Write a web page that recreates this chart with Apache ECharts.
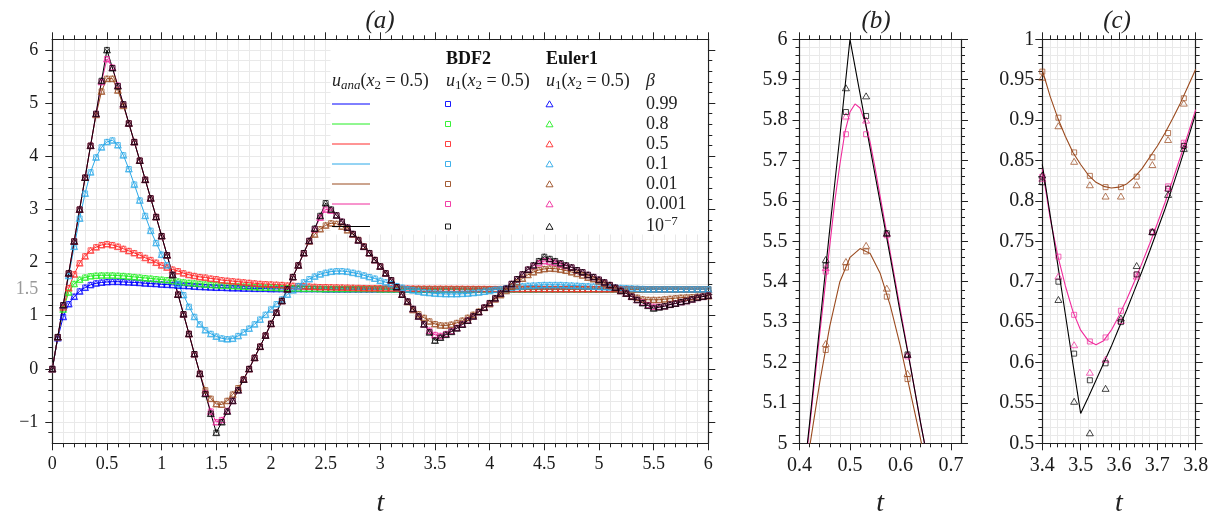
<!DOCTYPE html>
<html><head><meta charset="utf-8">
<script src="https://cdn.jsdelivr.net/npm/echarts@6.0.0/dist/echarts.min.js"></script>
<style>html,body{margin:0;padding:0;background:#fff}#c{width:1214px;height:515px}</style>
</head><body><div id="c"></div>
<script>
// ---------- data (panel a, t = 0 .. 6 step 0.05) ----------
const T_A = Array.from({length:121}, (_, i) => Math.round(i * 5) / 100);
const BLUE = [
0,0.58,0.98,1.22,1.36,1.46,1.53,1.58,1.61,1.625,
1.635,1.64,1.64,1.635,1.63,1.625,1.62,1.61,1.605,1.6,
1.59,1.585,1.58,1.57,1.565,1.56,1.55,1.545,1.54,1.535,
1.53,1.53,1.525,1.52,1.52,1.515,1.515,1.51,1.51,1.51,
1.505,1.505,1.505,1.505,1.505,1.505,1.505,1.505,1.505,1.505,
1.5,1.5,1.5,1.5,1.5,1.5,1.5,1.5,1.5,1.5,
1.5,1.5,1.5,1.5,1.5,1.5,1.5,1.5,1.5,1.5,
1.5,1.5,1.5,1.5,1.5,1.5,1.5,1.5,1.5,1.5,
1.5,1.5,1.5,1.5,1.5,1.5,1.5,1.5,1.5,1.5,
1.5,1.5,1.5,1.5,1.5,1.5,1.5,1.5,1.5,1.5,
1.5,1.5,1.5,1.5,1.5,1.5,1.5,1.5,1.5,1.5,
1.5,1.5,1.5,1.5,1.5,1.5,1.5,1.5,1.5,1.5,
1.5];
const GREEN = [
0,0.6,1.12,1.44,1.6,1.68,1.72,1.745,1.755,1.76,
1.76,1.76,1.755,1.75,1.74,1.73,1.72,1.71,1.70,1.69,
1.68,1.67,1.655,1.645,1.63,1.62,1.61,1.60,1.59,1.58,
1.575,1.57,1.565,1.56,1.555,1.55,1.545,1.54,1.535,1.53,
1.53,1.525,1.52,1.52,1.515,1.515,1.51,1.51,1.51,1.505,
1.505,1.505,1.505,1.505,1.505,1.505,1.505,1.505,1.505,1.505,
1.5,1.5,1.5,1.5,1.5,1.5,1.5,1.5,1.5,1.5,
1.5,1.5,1.5,1.5,1.5,1.5,1.5,1.5,1.5,1.5,
1.5,1.5,1.5,1.5,1.5,1.5,1.5,1.5,1.5,1.5,
1.5,1.5,1.5,1.5,1.5,1.5,1.5,1.5,1.5,1.5,
1.5,1.5,1.5,1.5,1.5,1.5,1.5,1.5,1.5,1.5,
1.5,1.5,1.5,1.5,1.5,1.5,1.5,1.5,1.5,1.5,
1.5];
const RED = [
0,0.6,1.16,1.52,1.78,1.99,2.12,2.23,2.29,2.33,
2.35,2.33,2.30,2.26,2.22,2.18,2.14,2.09,2.05,2.0,
1.95,1.91,1.87,1.84,1.8,1.77,1.75,1.73,1.72,1.70,
1.69,1.67,1.66,1.65,1.64,1.63,1.62,1.61,1.60,1.595,
1.59,1.585,1.58,1.57,1.565,1.56,1.555,1.55,1.545,1.54,
1.54,1.537,1.535,1.532,1.53,1.527,1.525,1.522,1.52,1.52,
1.52,1.518,1.517,1.516,1.515,1.514,1.513,1.512,1.511,1.51,
1.51,1.51,1.509,1.509,1.508,1.508,1.507,1.507,1.506,1.506,
1.505,1.505,1.505,1.505,1.505,1.505,1.505,1.505,1.505,1.505,
1.503,1.503,1.503,1.503,1.503,1.503,1.503,1.503,1.503,1.503,
1.502,1.502,1.502,1.502,1.502,1.502,1.502,1.502,1.502,1.502,
1.5,1.5,1.5,1.5,1.5,1.5,1.5,1.5,1.5,1.5,
1.5];
const CYAN = [
0,0.6,1.19,1.75,2.3,2.83,3.3,3.7,3.98,4.17,
4.27,4.30,4.21,4.02,3.76,3.47,3.17,2.88,2.6,2.37,
2.15,1.95,1.77,1.6,1.39,1.17,0.98,0.84,0.73,0.66,
0.61,0.575,0.56,0.57,0.62,0.69,0.76,0.84,0.93,1.02,
1.12,1.22,1.31,1.40,1.48,1.56,1.63,1.69,1.74,1.78,
1.81,1.83,1.84,1.84,1.83,1.81,1.79,1.76,1.73,1.70,
1.66,1.63,1.60,1.56,1.53,1.50,1.48,1.46,1.44,1.43,
1.42,1.415,1.41,1.41,1.41,1.415,1.42,1.43,1.44,1.455,
1.47,1.49,1.5,1.52,1.53,1.545,1.555,1.565,1.57,1.575,
1.58,1.58,1.58,1.58,1.575,1.57,1.565,1.56,1.555,1.55,
1.545,1.54,1.535,1.53,1.525,1.52,1.515,1.51,1.505,1.5,
1.5,1.5,1.5,1.5,1.5,1.5,1.5,1.5,1.5,1.5,
1.5];
const BROWN = [
0,0.6,1.2,1.8,2.4,3.0,3.6,4.2,4.78,5.22,
5.46,5.46,5.24,4.95,4.62,4.27,3.92,3.56,3.21,2.86,
2.5,2.14,1.77,1.4,1.03,0.66,0.28,-0.09,-0.40,-0.56,
-0.66,-0.67,-0.6,-0.48,-0.36,-0.19,0.0,0.21,0.42,0.63,
0.85,1.06,1.28,1.5,1.73,1.95,2.18,2.40,2.53,2.63,
2.70,2.74,2.73,2.68,2.61,2.53,2.43,2.31,2.18,2.05,
1.93,1.8,1.67,1.54,1.4,1.26,1.11,1.03,0.962,0.895,
0.845,0.82,0.817,0.834,0.866,0.91,0.963,1.02,1.08,1.15,
1.22,1.31,1.39,1.47,1.55,1.63,1.7,1.77,1.82,1.86,
1.88,1.89,1.885,1.87,1.85,1.82,1.79,1.76,1.72,1.69,
1.65,1.61,1.57,1.52,1.47,1.42,1.37,1.34,1.31,1.3,
1.3,1.3,1.31,1.32,1.33,1.34,1.345,1.35,1.36,1.365,
1.37];
const PINK = [
0,0.6,1.2,1.8,2.4,3.0,3.6,4.2,4.8,5.40,
5.83,5.67,5.33,4.98,4.62,4.27,3.92,3.56,3.21,2.86,
2.5,2.14,1.77,1.4,1.03,0.66,0.28,-0.09,-0.46,-0.8,
-1.0,-0.96,-0.79,-0.6,-0.4,-0.2,0.0,0.21,0.42,0.63,
0.85,1.06,1.28,1.5,1.73,1.95,2.18,2.41,2.63,2.85,
3.0,2.98,2.89,2.77,2.66,2.54,2.42,2.3,2.18,2.05,
1.93,1.8,1.67,1.54,1.4,1.27,1.13,0.99,0.84,0.72,
0.64,0.622,0.658,0.711,0.772,0.84,0.913,0.99,1.07,1.155,
1.24,1.33,1.42,1.51,1.6,1.69,1.78,1.87,1.94,1.99,
2.03,2.02,2.0,1.97,1.94,1.91,1.86,1.82,1.77,1.73,
1.68,1.63,1.58,1.53,1.47,1.42,1.36,1.3,1.25,1.2,
1.17,1.17,1.18,1.21,1.23,1.26,1.28,1.31,1.34,1.36,
1.38];
const BLACK = [
0,0.6,1.2,1.8,2.4,3.0,3.6,4.2,4.8,5.42,
6.0,5.66,5.32,4.98,4.62,4.27,3.92,3.56,3.21,2.86,
2.5,2.14,1.77,1.4,1.03,0.66,0.28,-0.09,-0.47,-0.84,
-1.2,-1.0,-0.8,-0.6,-0.4,-0.2,0.0,0.21,0.42,0.63,
0.85,1.06,1.28,1.5,1.73,1.95,2.18,2.41,2.64,2.88,
3.12,3.0,2.89,2.77,2.66,2.54,2.42,2.3,2.18,2.05,
1.93,1.8,1.67,1.54,1.4,1.27,1.13,0.99,0.84,0.69,
0.535,0.59,0.645,0.70,0.765,0.835,0.91,0.99,1.07,1.155,
1.24,1.33,1.42,1.51,1.6,1.69,1.78,1.87,1.95,2.03,
2.11,2.07,2.03,1.99,1.95,1.91,1.86,1.82,1.77,1.73,
1.68,1.63,1.58,1.53,1.47,1.42,1.36,1.3,1.24,1.19,
1.14,1.16,1.18,1.21,1.23,1.26,1.28,1.31,1.34,1.36,
1.38];

// ---------- panel b (zoom near t = 0.5) ----------
const TB = [0.40,0.42,0.44,0.46,0.48,0.50,0.52,0.54,0.56,0.58,0.60,0.62,0.64,0.66,0.68,0.70,0.72];
const B_BLACK = [4.82,5.05,5.29,5.53,5.76,6.0,5.865,5.73,5.595,5.46,5.32,5.19,5.05,4.92,4.78,4.65,4.51];
const B_BROWN = [4.8,4.99,5.15,5.29,5.40,5.46,5.482,5.47,5.42,5.34,5.24,5.125,5.01,4.89,4.76,4.62,4.48];
const TB_PINK = [0.40,0.42,0.44,0.46,0.47,0.48,0.49,0.50,0.51,0.52,0.53,0.54,0.55,0.56,0.58,0.60,0.62,0.64,0.66,0.68,0.70,0.72];
const B_PINK = [4.81,5.04,5.27,5.49,5.6,5.69,5.77,5.82,5.84,5.83,5.795,5.745,5.68,5.61,5.47,5.33,5.19,5.05,4.92,4.78,4.65,4.51];
const TB_M = [0.452,0.492,0.532,0.573,0.614];
const BM_BROWN_BDF = [5.231,5.435,5.475,5.363,5.159];
const BM_BROWN_EUL = [5.247,5.45,5.49,5.384,5.173];
const BM_PINK_BDF = [5.425,5.765,5.765,5.515,5.215];
const BM_PINK_EUL = [5.435,5.81,5.80,5.52,5.22];
const BM_BLACK_BDF = [5.44,5.82,5.81,5.52,5.22];
const BM_BLACK_EUL = [5.455,5.88,5.86,5.52,5.22];

// ---------- panel c (zoom near t = 3.5) ----------
const TC = [3.40,3.42,3.44,3.46,3.48,3.50,3.52,3.54,3.56,3.58,3.60,3.62,3.64,3.66,3.68,3.70,3.72,3.74,3.76,3.78,3.80];
const C_BLACK = [0.845,0.784,0.722,0.66,0.598,0.537,0.557,0.578,0.599,0.62,0.643,0.665,0.689,0.713,0.738,0.764,0.79,0.818,0.847,0.877,0.908];
const C_PINK = [0.84,0.78,0.733,0.695,0.663,0.64,0.627,0.622,0.627,0.64,0.658,0.678,0.70,0.723,0.747,0.772,0.798,0.826,0.854,0.883,0.913];
const C_BROWN = [0.962,0.93,0.903,0.88,0.86,0.845,0.832,0.823,0.818,0.816,0.817,0.821,0.829,0.84,0.854,0.868,0.884,0.902,0.921,0.942,0.963];
const TC_M = [3.400,3.442,3.483,3.524,3.565,3.605,3.646,3.687,3.728,3.769];
const CM_BROWN_BDF = [0.96,0.903,0.86,0.831,0.817,0.817,0.83,0.854,0.884,0.927];
const CM_BROWN_EUL = [0.953,0.893,0.849,0.82,0.806,0.806,0.82,0.845,0.876,0.921];
const CM_PINK_BDF = [0.83,0.731,0.659,0.626,0.631,0.664,0.709,0.762,0.818,0.872];
const CM_PINK_EUL = [0.828,0.707,0.622,0.588,0.604,0.652,0.707,0.762,0.816,0.87];
const CM_BLACK_BDF = [0.823,0.70,0.611,0.578,0.599,0.65,0.709,0.761,0.815,0.868];
const CM_BLACK_EUL = [0.832,0.678,0.552,0.513,0.568,0.655,0.72,0.762,0.808,0.865];

// ---------- labels ----------
const BETA_LABELS = ['{n|0.99}','{n|0.8}','{n|0.5}','{n|0.1}','{n|0.01}','{n|0.001}','{n|10}{sup|\u22127}'];
const COLORS = ['#0000ff','#22ee22','#ff2a2a','#2aa8e8','#9a4a1e','#f02a9c','#000000'];
const A_SERIES = [BLUE, GREEN, RED, CYAN, BROWN, PINK, BLACK];
const A_YLABELS = [-1,0,1,1.5,2,3,4,5,6];
const A_YTICKS = [-1,0,1,2,3,4,5,6];
const B_XTICKS = [0.4,0.5,0.6,0.7];

const FONT = "'Liberation Serif','DejaVu Serif',serif";
const GRID_COL = '#e9e9e9';
const AX_COL = '#222';

function zip(xs, ys){ return xs.map((x,i)=>[x, ys[i]]); }
function fmtNum(v){ return v < 0 ? '\u2212' + Math.abs(v) : String(v); }

function axis(o){
  const fs = o.fs || 18;
  const ax = {
    type:'value', gridIndex:o.grid, position:o.pos, min:o.min, max:o.max,
    axisLine:{show:true, onZero:false, lineStyle:{color:AX_COL, width:1.2}},
    axisTick:{show:true, inside:false, length:7, lineStyle:{color:AX_COL, width:1}},
    minorTick:{show:true, splitNumber:o.minor, length:4, lineStyle:{color:AX_COL, width:1}},
    splitLine:{show:!!o.gridLines, lineStyle:{color:GRID_COL, width:1}},
    minorSplitLine:{show:!!o.gridLines, lineStyle:{color:GRID_COL, width:1}},
    axisLabel:{show:!!o.labels, margin:o.margin||10, fontFamily:FONT, fontSize:fs, color:'#1a1a1a',
      formatter:function(v){ if (o.greyHalf && v === 1.5) return '{g|1.5}'; return fmtNum(+v.toFixed(4)); },
      rich:{g:{color:'#999', fontFamily:FONT, fontSize:fs}}},
    silent:true
  };
  if (o.interval !== undefined) ax.interval = o.interval;
  if (o.fixInterval !== undefined){ ax.minInterval = o.fixInterval; ax.maxInterval = o.fixInterval; }
  if (o.tickValues) ax.axisTick.customValues = o.tickValues;
  if (o.labelValues) ax.axisLabel.customValues = o.labelValues;
  if (o.name){
    ax.name = o.name; ax.nameLocation = 'middle'; ax.nameGap = 46;
    ax.nameTextStyle = {fontFamily:FONT, fontStyle:'italic', fontSize:28, color:'#222'};
  }
  return ax;
}

const xAxes = [], yAxes = [];
// panel a
xAxes.push(axis({grid:0,pos:'bottom',min:0,max:6,interval:0.5,minor:5,gridLines:true,labels:true,margin:12,name:'t'}));
xAxes.push(axis({grid:0,pos:'top',min:0,max:6,interval:0.5,minor:5}));
yAxes.push(axis({grid:0,pos:'left',min:-1.4,max:6.2,fixInterval:1,minor:5,gridLines:true,labels:true,margin:14,tickValues:A_YTICKS,labelValues:A_YLABELS,greyHalf:true}));
yAxes.push(axis({grid:0,pos:'right',min:-1.4,max:6.2,fixInterval:1,minor:5,tickValues:A_YTICKS}));
// panel b
xAxes.push(axis({grid:1,pos:'bottom',min:0.4,max:0.72,interval:0.1,minor:5,gridLines:true,labels:true,margin:12,name:'t',tickValues:B_XTICKS,labelValues:B_XTICKS,fs:20}));
xAxes.push(axis({grid:1,pos:'top',min:0.4,max:0.72,interval:0.1,minor:5,tickValues:B_XTICKS}));
yAxes.push(axis({grid:1,pos:'left',min:5,max:6,interval:0.1,minor:5,gridLines:true,labels:true,margin:12,fs:20}));
yAxes.push(axis({grid:1,pos:'right',min:5,max:6,interval:0.1,minor:5}));
// panel c
xAxes.push(axis({grid:2,pos:'bottom',min:3.4,max:3.8,interval:0.1,minor:5,gridLines:true,labels:true,margin:12,name:'t',fs:20}));
xAxes.push(axis({grid:2,pos:'top',min:3.4,max:3.8,interval:0.1,minor:5}));
yAxes.push(axis({grid:2,pos:'left',min:0.5,max:1,interval:0.05,minor:5,gridLines:true,labels:true,margin:8,fs:20}));
yAxes.push(axis({grid:2,pos:'right',min:0.5,max:1,interval:0.05,minor:5}));

function lineS(ax, xs, ys, color, w){
  return {type:'line', xAxisIndex:ax, yAxisIndex:ax, data:zip(xs,ys), symbol:'none', showSymbol:false,
    lineStyle:{color:color, width:w||1}, itemStyle:{color:color}, silent:true, clip:true, z:2};
}
function markS(ax, xs, ys, color, shape){
  return {type:'scatter', xAxisIndex:ax, yAxisIndex:ax, data:zip(xs,ys),
    symbol: shape === 'sq' ? 'rect' : 'triangle', symbolSize: shape === 'sq' ? 5 : [7,6],
    itemStyle:{color:'rgba(0,0,0,0)', borderColor:color, borderWidth:0.9}, silent:true, z:2};
}

const series = [];
for (let k = 0; k < 7; k++){
  series.push(lineS(0, T_A, A_SERIES[k], COLORS[k], 1));
  series.push(markS(0, T_A, A_SERIES[k], COLORS[k], 'sq'));
  series.push(markS(0, T_A, A_SERIES[k], COLORS[k], 'tri'));
}
// panel b (axes 2,3)
series.push(lineS(2, TB, B_BROWN, COLORS[4], 1.1));
series.push(markS(2, TB_M, BM_BROWN_BDF, COLORS[4], 'sq'));
series.push(markS(2, TB_M, BM_BROWN_EUL, COLORS[4], 'tri'));
series.push(lineS(2, TB_PINK, B_PINK, COLORS[5], 1.1));
series.push(markS(2, TB_M, BM_PINK_BDF, COLORS[5], 'sq'));
series.push(markS(2, TB_M, BM_PINK_EUL, COLORS[5], 'tri'));
series.push(lineS(2, TB, B_BLACK, COLORS[6], 1.1));
series.push(markS(2, TB_M, BM_BLACK_BDF, COLORS[6], 'sq'));
series.push(markS(2, TB_M, BM_BLACK_EUL, COLORS[6], 'tri'));
// panel c (axes 4,5)
series.push(lineS(4, TC, C_BROWN, COLORS[4], 1.1));
series.push(markS(4, TC_M, CM_BROWN_BDF, COLORS[4], 'sq'));
series.push(markS(4, TC_M, CM_BROWN_EUL, COLORS[4], 'tri'));
series.push(lineS(4, TC, C_PINK, COLORS[5], 1.1));
series.push(markS(4, TC_M, CM_PINK_BDF, COLORS[5], 'sq'));
series.push(markS(4, TC_M, CM_PINK_EUL, COLORS[5], 'tri'));
series.push(lineS(4, TC, C_BLACK, COLORS[6], 1.1));
series.push(markS(4, TC_M, CM_BLACK_BDF, COLORS[6], 'sq'));
series.push(markS(4, TC_M, CM_BLACK_EUL, COLORS[6], 'tri'));

// ---------- legend table & titles (graphic) ----------
const RICH = {
  i:{fontFamily:FONT, fontStyle:'italic', fontSize:18, lineHeight:22, verticalAlign:'middle', fill:'#222'},
  n:{fontFamily:FONT, fontSize:18, lineHeight:22, verticalAlign:'middle', fill:'#222'},
  s:{fontFamily:FONT, fontStyle:'italic', fontSize:13, lineHeight:13, verticalAlign:'bottom', fill:'#222'},
  sn:{fontFamily:FONT, fontSize:13, lineHeight:13, verticalAlign:'bottom', fill:'#222'},
  sup:{fontFamily:FONT, fontSize:13, lineHeight:13, verticalAlign:'top', fill:'#222'}
};
function txt(x, y, text){
  return {type:'text', x:x, y:y, z:10, silent:true,
    style:{text:text, rich:RICH, fill:'#222', font:'18px ' + FONT, align:'left', verticalAlign:'middle'}};
}
function bold(x, y, text){
  return {type:'text', x:x, y:y, z:10, silent:true,
    style:{text:text, fill:'#111', font:'bold 18px ' + FONT, align:'left', verticalAlign:'middle'}};
}
function title(x, text){
  return {type:'text', x:x, y:21, z:10, silent:true,
    style:{text:text, font:'italic 25px ' + FONT, fill:'#222', align:'center', verticalAlign:'middle'}};
}
const ROW_Y = [104,124,144,164,184,204,226.5];
const graphics = [
  {type:'rect', z:1, silent:true, shape:{x:330.5, y:40.5, width:377, height:194}, style:{fill:'#fff'}},
  bold(446, 59, 'BDF2'),
  bold(546, 59, 'Euler1'),
  txt(332, 81, '{i|u}{s|ana}{n|(}{i|x}{sn|2}{n| = 0.5)}'),
  txt(446, 81, '{i|u}{sn|1}{n|(}{i|x}{sn|2}{n| = 0.5)}'),
  txt(546, 81, '{i|u}{sn|1}{n|(}{i|x}{sn|2}{n| = 0.5)}'),
  txt(646, 81, '{i|\u03b2}'),
  title(380, '(a)'), title(876, '(b)'), title(1117, '(c)')
];
for (let k = 0; k < 7; k++){
  const y = ROW_Y[k], c = COLORS[k];
  graphics.push({type:'line', z:10, silent:true, shape:{x1:332, y1:y, x2:370, y2:y}, style:{stroke:c, lineWidth:1}});
  graphics.push({type:'rect', z:10, silent:true, shape:{x:445.5, y:y-2.5, width:5, height:5}, style:{stroke:c, fill:'none', lineWidth:0.9}});
  graphics.push({type:'polygon', z:10, silent:true, shape:{points:[[549.5,y-3.2],[553,y+2.8],[546,y+2.8]]}, style:{stroke:c, fill:'none', lineWidth:0.9}});
  graphics.push(txt(646, y, BETA_LABELS[k]));
}

const chart = echarts.init(document.getElementById('c'), null, {renderer:'canvas'});
chart.setOption({
  animation:false,
  backgroundColor:'#fff',
  grid:[
    {left:52.3, top:39.3, width:656, height:404, containLabel:false, outerBoundsMode:'none'},
    {left:799.5, top:39.3, width:161.5, height:404, containLabel:false, outerBoundsMode:'none'},
    {left:1042.3, top:39.3, width:153.4, height:404, containLabel:false, outerBoundsMode:'none'}
  ],
  xAxis:xAxes, yAxis:yAxes, series:series, graphic:graphics
});
</script></body></html>
